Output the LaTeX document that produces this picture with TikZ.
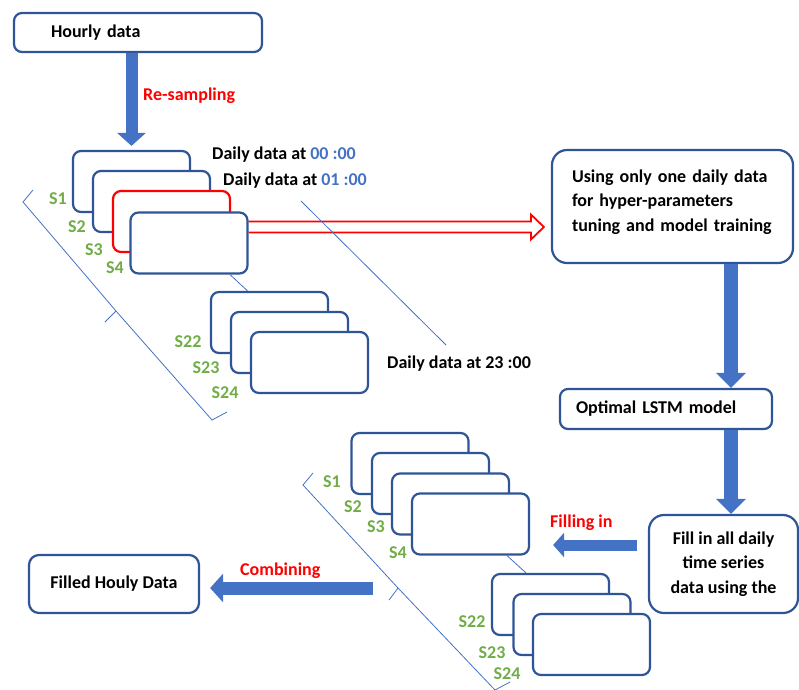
\documentclass[tikz,border=0pt]{standalone}
\usepackage{fontspec}
\setmainfont{Carlito}
\usepackage{tikz}
\usetikzlibrary{calc,arrows.meta,positioning}
\definecolor{cardblue}{HTML}{2F5597}
\definecolor{arrowblue}{HTML}{4472C4}
\definecolor{notered}{HTML}{FF0000}
\definecolor{taggreen}{HTML}{70AD47}

\begin{document}
\begin{tikzpicture}[x=1pt,y=-1pt,
    font=\fontsize{18}{24.5}\selectfont\bfseries,
    box/.style={draw=cardblue,line width=2.2pt,rounded corners=8pt,fill=white,inner sep=0pt},
    card/.style={box,minimum width=117pt,minimum height=61pt},
    fatarrow/.style={arrowblue,line width=13pt,-{Triangle[length=13pt,width=28pt]}},
    guide/.style={arrowblue,line width=0.8pt},
    tag/.style={text=taggreen,inner sep=0pt},
    note/.style={text=notered,anchor=west,inner sep=0pt}]
    \useasboundingbox (0,0) rectangle (799,689);

    \node[box,minimum width=248pt,minimum height=39pt,text width=174pt,inner xsep=37pt,align=left] (hourly) at (138,32.5) {Hourly data};
    \node[box,rounded corners=15pt,minimum width=241pt,minimum height=113pt,text width=201pt,inner xsep=20pt,align=left] (usebox) at (672.5,206.5) {Using only one daily data\\for hyper-parameters\\tuning and model training\\[-12pt]~};
    \node[box,minimum width=212pt,minimum height=40pt,text width=180pt,inner xsep=16pt,align=left] (optbox) at (666,409) {Optimal LSTM model};
    \node[box,rounded corners=15pt,minimum width=149pt,minimum height=98pt,align=center] (fillbox) at (723.5,564) {Fill in all daily\\time series\\data using the};
    \node[box,rounded corners=10pt,minimum width=170pt,minimum height=58pt] (filled) at (114,584) {Filled Houly Data};

    \foreach \n/\x/\y/\c in {1/131.5/181.5/cardblue,2/151.5/201.5/cardblue,3/171.5/221.5/notered,4/189/243/cardblue,
                             22/269.5/322.5/cardblue,23/289.5/342.5/cardblue,24/309.5/362.5/cardblue}
      \node[card,draw=\c] (s\n) at (\x,\y) {};
    \foreach \n/\x/\y in {1/58/199,2/77/227,3/94/250,4/115/268,22/188/342,23/206/368,24/225/393}
      \node[tag] (ts\n) at (\x,\y) {S\n};

    \foreach \n/\x/\y in {1/410/463.5,2/430.5/483.5,3/450.5/504,4/470.5/524,
                          22/550.5/604.5,23/572/624.5,24/591.5/644.5}
      \node[card] (f\n) at (\x,\y) {};
    \foreach \n/\x/\y in {1/332/482,2/353/507,3/376/527,4/398/553,22/472/622,23/492/653,24/507/674}
      \node[tag] (tf\n) at (\x,\y) {S\n};

    \node[anchor=west,inner sep=0pt] (d00) at (212,155) {Daily data at \textcolor{arrowblue}{00 :00}};
    \node[anchor=west,inner sep=0pt] (d01) at (223,181) {Daily data at \textcolor{arrowblue}{01 :00}};
    \node[anchor=west,inner sep=0pt] (d23) at (387,364) {Daily data at 23 :00};

    \node[note] (resample) at (143,96) {Re-sampling};
    \node[note] (fillin) at (550,523) {Filling in};
    \node[note] (combine) at (240,571) {Combining};

    \draw[fatarrow,line width=12pt] (hourly.south -| s1.north) -- ([yshift=4pt]s1.north);
    \coordinate (dn) at (731,0);
    \draw[fatarrow,line width=14pt,-{Triangle[length=15pt,width=29pt]}] (usebox.south -| dn) -- (optbox.north -| dn);
    \draw[fatarrow,line width=14pt,-{Triangle[length=15pt,width=29pt]}] (optbox.south -| dn) -- (fillbox.north -| dn);

    \coordinate (fillfrom) at ([xshift=-11pt,yshift=19pt]fillbox.west);
    \path (f4.east) ++(23,0) coordinate (fillto);
    \draw[fatarrow,line width=11pt,-{Triangle[length=11pt,width=24pt]}] (fillfrom) -- (fillfrom -| fillto);

    \coordinate (combfrom) at (373,588);
    \path (filled.east) ++(10,0) coordinate (combto);
    \draw[fatarrow] (combfrom) -- (combfrom -| combto);

    \path (s4.east) ++(0,-16) coordinate (hollowfrom);
    \path (usebox.west) ++(-7,0) coordinate (hollowtip);
    \draw[notered,line width=1.8pt] let \p1=(hollowfrom),\p2=(hollowtip |- hollowfrom) in
      (\x1,\y1+5.5pt) -- (\x2-13pt,\y1+5.5pt) -- (\x2-13pt,\y1+12.5pt) -- (\p2)
      -- (\x2-13pt,\y1-12.5pt) -- (\x2-13pt,\y1-5.5pt) -- (\x1,\y1-5.5pt);

    \draw[guide] ([xshift=41pt]s4.south) -- ([xshift=-22pt]s22.north);
    \draw[guide] ([xshift=36.5pt]f4.south) -- ([xshift=-24.5pt]f22.north);
    \coordinate (gapA) at (301,201);
    \coordinate (gapB) at (446,345);
    \draw[guide] (gapA) -- (gapB);

    \draw[guide] (33,190) -- (23,202) -- (116,311) -- (212,420) -- (227,412);
    \draw[guide] (116,311) -- (105,322);
    \draw[guide] (313,473) -- (303,485) -- (398,588) -- (495,690) -- (510,682);
    \draw[guide] (398,588) -- (389,600);
  \end{tikzpicture}
\end{document}
